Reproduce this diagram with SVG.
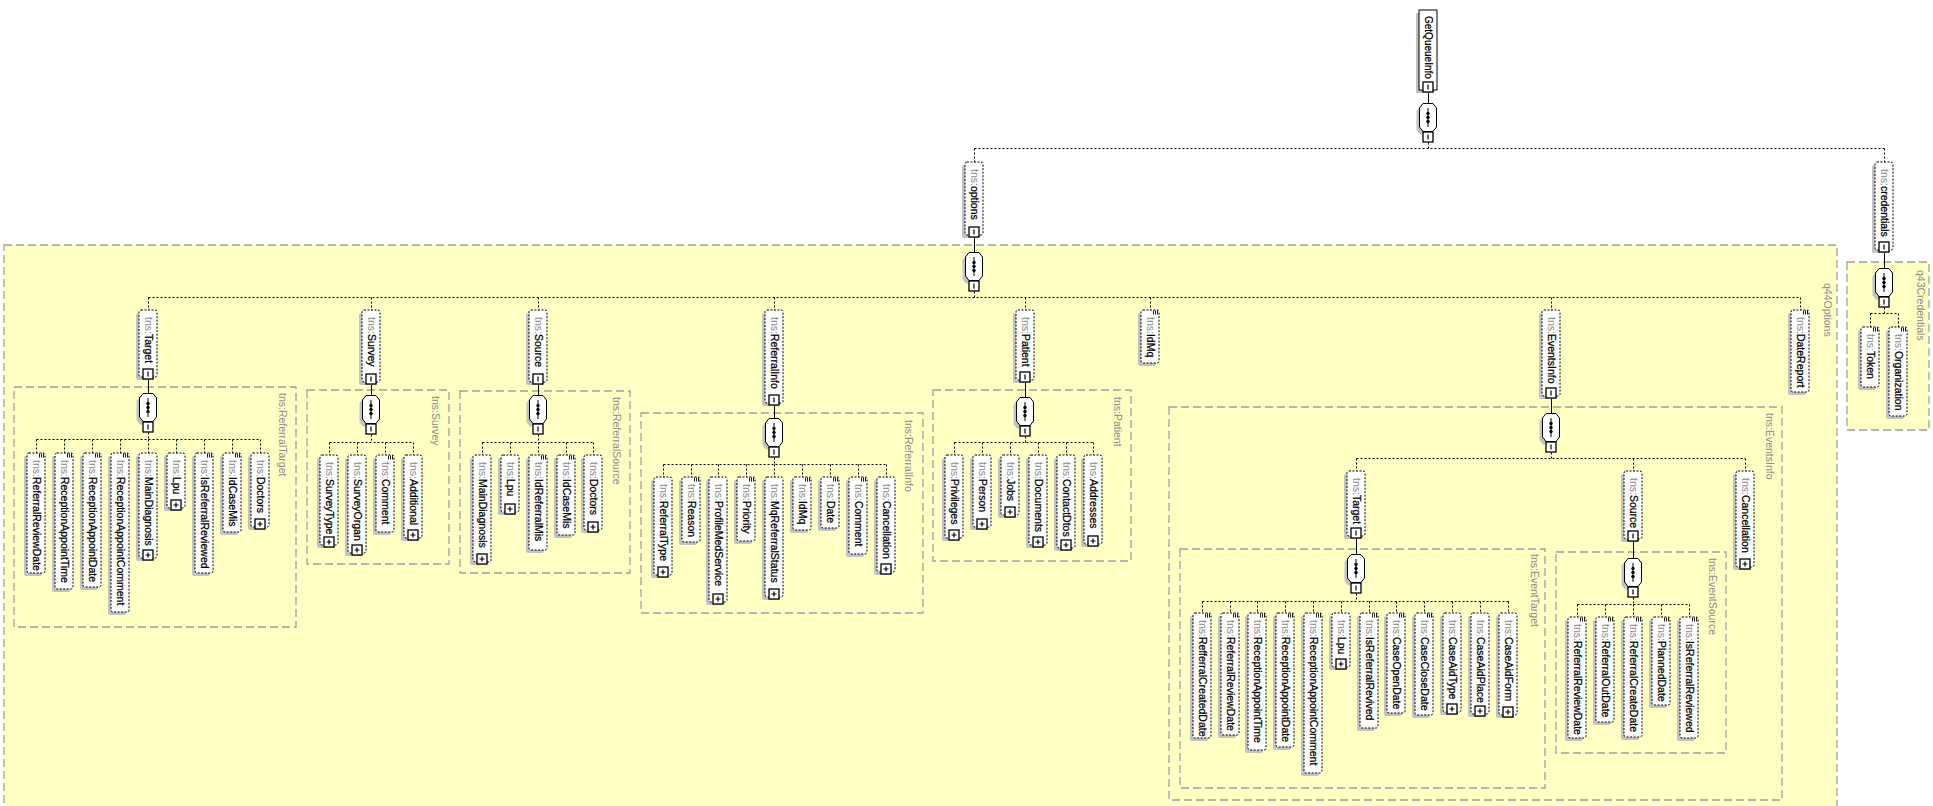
<svg xmlns="http://www.w3.org/2000/svg" xmlns:xlink="http://www.w3.org/1999/xlink" width="1933" height="806" viewBox="0 0 1933 806">
<style>
text{font-family:"Liberation Sans",Arial,sans-serif;font-size:10.5px}
.sh{fill:#c2c2c2}
.bx{fill:#fff;stroke:#000;stroke-width:1;stroke-dasharray:2 1.5}
.bxs{fill:#fff;stroke:#000;stroke-width:1}
.ns{fill:#8a8a8a}
.nm{fill:#000;stroke:#000;stroke-width:0.25}
.lbl{fill:#8c8c8c;font-size:10.5px}
.tb{fill:#ffffc4;stroke:#a0a0a0;stroke-width:1.3;stroke-dasharray:8 4}
.dc{fill:none;stroke:#000;stroke-width:1;stroke-dasharray:2 2}
.sc{fill:none;stroke:#000;stroke-width:1}
</style>
<defs>
<g id="tplus"><rect x="0.5" y="0.5" width="10" height="10" fill="#fff" stroke="#000" stroke-width="1.3"/><path d="M3 5.5h5M5.5 3v5" stroke="#000" stroke-width="1.2"/></g>
<g id="tminus"><rect x="0.5" y="0.5" width="10" height="10" fill="#fff" stroke="#000" stroke-width="1.3"/><path d="M5.5 3v5" stroke="#000" stroke-width="1.2"/></g>
<g id="leaf"><path d="M0 0v4M2 0v4M4 0v4" stroke="#000" stroke-width="0.9"/></g>
<g id="seq">
<path d="M1 3.5H11L14.5 8V27L11 31.5H1L-2.5 27V8Z" fill="#c2c2c2"/>
<path d="M4 0.5H14L17.5 5V24L14 28.5H4L0.5 24V5Z" fill="#fff" stroke="#000"/>
<path d="M9 5V24" stroke="#000"/>
<circle cx="9" cy="10.5" r="1.7"/><circle cx="9" cy="14.5" r="1.7"/><circle cx="9" cy="18.5" r="1.7"/>
<rect x="4" y="29" width="10" height="10" fill="#fff" stroke="#000" stroke-width="1.3"/><path d="M9 31.5v5" stroke="#000" stroke-width="1.2"/>
</g>
</defs>

<g id="typeboxes">
<rect id="tb-q44Options" class="tb" x="4" y="245" width="1833" height="600"/>
<text class="lbl" transform="translate(1824.3,283) rotate(90)">q44Options</text>
<rect id="tb-q43Credentials" class="tb" x="1847" y="262" width="82" height="168"/>
<text class="lbl" transform="translate(1917.3,270) rotate(90)">q43Credentials</text>
<rect id="tb-ReferralTarget" class="tb" x="14" y="387" width="282" height="240"/>
<text class="lbl" transform="translate(279.3,393) rotate(90)">tns:ReferralTarget</text>
<rect id="tb-Survey" class="tb" x="307" y="390" width="142" height="174"/>
<text class="lbl" transform="translate(432.3,396) rotate(90)">tns:Survey</text>
<rect id="tb-ReferralSource" class="tb" x="460" y="391" width="170" height="182"/>
<text class="lbl" transform="translate(613.3,397) rotate(90)">tns:ReferralSource</text>
<rect id="tb-ReferralInfo" class="tb" x="641" y="413" width="282" height="200"/>
<text class="lbl" transform="translate(905.3,420) rotate(90)">tns:ReferralInfo</text>
<rect id="tb-Patient" class="tb" x="933" y="390" width="198" height="171"/>
<text class="lbl" transform="translate(1114.3,397) rotate(90)">tns:Patient</text>
<rect id="tb-EventsInfo" class="tb" x="1169" y="407" width="613" height="393"/>
<text class="lbl" transform="translate(1766.3,413) rotate(90)">tns:EventsInfo</text>
<rect id="tb-EventTarget" class="tb" x="1180" y="549" width="365" height="239"/>
<text class="lbl" transform="translate(1531.3,554) rotate(90)">tns:EventTarget</text>
<rect id="tb-EventSource" class="tb" x="1556" y="552" width="170" height="201"/>
<text class="lbl" transform="translate(1709.3,558) rotate(90)">tns:EventSource</text>
</g>

<g id="connectors" transform="translate(0.5,0.5)">
<path class="dc" d="M1428 142V148M974 148H1884M974 148V162M1884 148V162
M974 291V297M148 297H1800M148 297V310M371 297V310M538 297V310M774 297V310M1025 297V310M1150 297V310M1551 297V310M1800 297V310
M1884 307V313M1870 313H1898M1870 313V327M1898 313V327
M148 432V439M36 439H260M36 439V453M64 439V453M92 439V453M120 439V453M148 439V453M176 439V453M204 439V453M232 439V453M260 439V453
M371 434V442M329 442H413M329 442V455M357 442V455M385 442V455M413 442V455
M538 434V442M482 442H593M482 442V455M510 442V455M538 442V455M566 442V455M593 442V455
M774 457V464M663 464H886M663 464V477M691 464V477M718 464V477M746 464V477M774 464V477M802 464V477M830 464V477M858 464V477M886 464V477
M1025 436V442M954 442H1093M954 442V455M982 442V455M1010 442V455M1038 442V455M1066 442V455M1093 442V455
M1551 452V458M1356 458H1745M1356 458V471M1633 458V471M1745 458V471
M1356 593V601M1202 601H1508M1202 601V613M1230 601V613M1257 601V613M1285 601V613M1313 601V613M1341 601V613M1369 601V613M1396 601V613M1424 601V613M1452 601V613M1480 601V613M1508 601V613
M1633 597V604M1577 604H1689M1577 604V617M1605 604V617M1633 604V617M1661 604V617M1689 604V617"/>
<path class="sc" d="M1428 92V103M974 237V252M1884 252V268M148 379V393M371 384V395M538 384V395M774 405V418M1025 382V397M1551 398V413M1356 538V554M1633 541V558"/>
</g>

<g id="sequences">
<use href="#seq" x="1419" y="103"/>
<use href="#seq" x="965" y="252"/>
<use href="#seq" x="1875" y="268"/>
<use href="#seq" x="139" y="393"/>
<use href="#seq" x="362" y="395"/>
<use href="#seq" x="529" y="395"/>
<use href="#seq" x="765" y="418"/>
<use href="#seq" x="1016" y="397"/>
<use href="#seq" x="1542" y="413"/>
<use href="#seq" x="1347" y="554"/>
<use href="#seq" x="1624" y="558"/>
</g>

<g id="GetQueueInfo"><rect class="sh" x="1416" y="13" width="18" height="80"/><rect class="bxs" x="1419" y="10" width="18" height="80"/><text class="nm" style="font-size:10px" transform="translate(1424.5,16) rotate(90)">GetQueueInfo</text><use href="#tminus" x="1422.5" y="81.5"/></g>

<g id="options"><rect class="sh" x="962" y="165" width="18" height="73" rx="2"/><rect class="bx" x="965" y="162" width="18" height="73" rx="2"/><text transform="translate(970.5,169) rotate(90)"><tspan class="ns">tns:</tspan><tspan class="nm">options</tspan></text><use href="#tminus" x="968.5" y="226.5"/></g>
<g id="credentials"><rect class="sh" x="1872" y="165" width="18" height="88" rx="2"/><rect class="bx" x="1875" y="162" width="18" height="88" rx="2"/><text transform="translate(1880.5,169) rotate(90)"><tspan class="ns">tns:</tspan><tspan class="nm">credentials</tspan></text><use href="#tminus" x="1878.5" y="241.5"/></g>
<g id="Token"><rect class="sh" x="1858" y="330" width="18" height="60" rx="2"/><rect class="bx" x="1861" y="327" width="18" height="60" rx="2"/><text transform="translate(1866.5,334) rotate(90)"><tspan class="ns">tns:</tspan><tspan class="nm">Token</tspan></text><use href="#leaf" x="1873.5" y="327.5"/></g>
<g id="Organization"><rect class="sh" x="1886" y="330" width="18" height="89" rx="2"/><rect class="bx" x="1889" y="327" width="18" height="89" rx="2"/><text transform="translate(1894.5,334) rotate(90)"><tspan class="ns">tns:</tspan><tspan class="nm">Organization</tspan></text><use href="#leaf" x="1901.5" y="327.5"/></g>

<g id="opt-Target"><rect class="sh" x="136" y="313" width="18" height="67" rx="2"/><rect class="bx" x="139" y="310" width="18" height="67" rx="2"/><text transform="translate(144.5,317) rotate(90)"><tspan class="ns">tns:</tspan><tspan class="nm">Target</tspan></text><use href="#tminus" x="142.5" y="368.5"/></g>
<g id="opt-Survey"><rect class="sh" x="359" y="313" width="18" height="72" rx="2"/><rect class="bx" x="362" y="310" width="18" height="72" rx="2"/><text transform="translate(367.5,317) rotate(90)"><tspan class="ns">tns:</tspan><tspan class="nm">Survey</tspan></text><use href="#tminus" x="365.5" y="373.5"/></g>
<g id="opt-Source"><rect class="sh" x="526" y="313" width="18" height="72" rx="2"/><rect class="bx" x="529" y="310" width="18" height="72" rx="2"/><text transform="translate(534.5,317) rotate(90)"><tspan class="ns">tns:</tspan><tspan class="nm">Source</tspan></text><use href="#tminus" x="532.5" y="373.5"/></g>
<g id="opt-ReferralInfo"><rect class="sh" x="762" y="313" width="18" height="93" rx="2"/><rect class="bx" x="765" y="310" width="18" height="93" rx="2"/><text transform="translate(770.5,317) rotate(90)"><tspan class="ns">tns:</tspan><tspan class="nm">ReferralInfo</tspan></text><use href="#tminus" x="768.5" y="394.5"/></g>
<g id="opt-Patient"><rect class="sh" x="1013" y="313" width="18" height="70" rx="2"/><rect class="bx" x="1016" y="310" width="18" height="70" rx="2"/><text transform="translate(1021.5,317) rotate(90)"><tspan class="ns">tns:</tspan><tspan class="nm">Patient</tspan></text><use href="#tminus" x="1019.5" y="371.5"/></g>
<g id="opt-IdMq"><rect class="sh" x="1138" y="313" width="18" height="53" rx="2"/><rect class="bx" x="1141" y="310" width="18" height="53" rx="2"/><text transform="translate(1146.5,317) rotate(90)"><tspan class="ns">tns:</tspan><tspan class="nm">IdMq</tspan></text><use href="#leaf" x="1153.5" y="310.5"/></g>
<g id="opt-EventsInfo"><rect class="sh" x="1539" y="313" width="18" height="86" rx="2"/><rect class="bx" x="1542" y="310" width="18" height="86" rx="2"/><text transform="translate(1547.5,317) rotate(90)"><tspan class="ns">tns:</tspan><tspan class="nm">EventsInfo</tspan></text><use href="#tminus" x="1545.5" y="387.5"/></g>
<g id="opt-DateReport"><rect class="sh" x="1788" y="313" width="18" height="82" rx="2"/><rect class="bx" x="1791" y="310" width="18" height="82" rx="2"/><text transform="translate(1796.5,317) rotate(90)"><tspan class="ns">tns:</tspan><tspan class="nm">DateReport</tspan></text><use href="#leaf" x="1803.5" y="310.5"/></g>

<g id="rt-ReferralReviewDate"><rect class="sh" x="24" y="456" width="18" height="120" rx="2"/><rect class="bx" x="27" y="453" width="18" height="120" rx="2"/><text transform="translate(32.5,460) rotate(90)"><tspan class="ns">tns:</tspan><tspan class="nm">ReferralReviewDate</tspan></text><use href="#leaf" x="39.5" y="453.5"/></g>
<g id="rt-ReceptionAppointTime"><rect class="sh" x="52" y="456" width="18" height="136" rx="2"/><rect class="bx" x="55" y="453" width="18" height="136" rx="2"/><text transform="translate(60.5,460) rotate(90)"><tspan class="ns">tns:</tspan><tspan class="nm">ReceptionAppointTime</tspan></text><use href="#leaf" x="67.5" y="453.5"/></g>
<g id="rt-ReceptionAppointDate"><rect class="sh" x="80" y="456" width="18" height="134" rx="2"/><rect class="bx" x="83" y="453" width="18" height="134" rx="2"/><text transform="translate(88.5,460) rotate(90)"><tspan class="ns">tns:</tspan><tspan class="nm">ReceptionAppointDate</tspan></text><use href="#leaf" x="95.5" y="453.5"/></g>
<g id="rt-ReceptionAppointComment"><rect class="sh" x="108" y="456" width="18" height="159" rx="2"/><rect class="bx" x="111" y="453" width="18" height="159" rx="2"/><text transform="translate(116.5,460) rotate(90)"><tspan class="ns">tns:</tspan><tspan class="nm">ReceptionAppointComment</tspan></text><use href="#leaf" x="123.5" y="453.5"/></g>
<g id="rt-MainDiagnosis"><rect class="sh" x="136" y="456" width="18" height="105" rx="2"/><rect class="bx" x="139" y="453" width="18" height="105" rx="2"/><text transform="translate(144.5,460) rotate(90)"><tspan class="ns">tns:</tspan><tspan class="nm">MainDiagnosis</tspan></text><use href="#tplus" x="142.5" y="549.5"/></g>
<g id="rt-Lpu"><rect class="sh" x="164" y="456" width="18" height="55" rx="2"/><rect class="bx" x="167" y="453" width="18" height="55" rx="2"/><text transform="translate(172.5,460) rotate(90)"><tspan class="ns">tns:</tspan><tspan class="nm">Lpu</tspan></text><use href="#tplus" x="170.5" y="499.5"/></g>
<g id="rt-IsReferralReviewed"><rect class="sh" x="192" y="456" width="18" height="120" rx="2"/><rect class="bx" x="195" y="453" width="18" height="120" rx="2"/><text transform="translate(200.5,460) rotate(90)"><tspan class="ns">tns:</tspan><tspan class="nm">IsReferralReviewed</tspan></text><use href="#leaf" x="207.5" y="453.5"/></g>
<g id="rt-IdCaseMis"><rect class="sh" x="220" y="456" width="18" height="79" rx="2"/><rect class="bx" x="223" y="453" width="18" height="79" rx="2"/><text transform="translate(228.5,460) rotate(90)"><tspan class="ns">tns:</tspan><tspan class="nm">IdCaseMis</tspan></text><use href="#leaf" x="235.5" y="453.5"/></g>
<g id="rt-Doctors"><rect class="sh" x="248" y="456" width="18" height="74" rx="2"/><rect class="bx" x="251" y="453" width="18" height="74" rx="2"/><text transform="translate(256.5,460) rotate(90)"><tspan class="ns">tns:</tspan><tspan class="nm">Doctors</tspan></text><use href="#tplus" x="254.5" y="518.5"/></g>

<g id="sv-SurveyType"><rect class="sh" x="317" y="458" width="18" height="90" rx="2"/><rect class="bx" x="320" y="455" width="18" height="90" rx="2"/><text transform="translate(325.5,462) rotate(90)"><tspan class="ns">tns:</tspan><tspan class="nm">SurveyType</tspan></text><use href="#tplus" x="323.5" y="536.5"/></g>
<g id="sv-SurveyOrgan"><rect class="sh" x="345" y="458" width="18" height="98" rx="2"/><rect class="bx" x="348" y="455" width="18" height="98" rx="2"/><text transform="translate(353.5,462) rotate(90)"><tspan class="ns">tns:</tspan><tspan class="nm">SurveyOrgan</tspan></text><use href="#tplus" x="351.5" y="544.5"/></g>
<g id="sv-Comment"><rect class="sh" x="373" y="458" width="18" height="77" rx="2"/><rect class="bx" x="376" y="455" width="18" height="77" rx="2"/><text transform="translate(381.5,462) rotate(90)"><tspan class="ns">tns:</tspan><tspan class="nm">Comment</tspan></text><use href="#leaf" x="388.5" y="455.5"/></g>
<g id="sv-Additional"><rect class="sh" x="401" y="458" width="18" height="83" rx="2"/><rect class="bx" x="404" y="455" width="18" height="83" rx="2"/><text transform="translate(409.5,462) rotate(90)"><tspan class="ns">tns:</tspan><tspan class="nm">Additional</tspan></text><use href="#tplus" x="407.5" y="529.5"/></g>

<g id="rs-MainDiagnosis"><rect class="sh" x="470" y="458" width="18" height="107" rx="2"/><rect class="bx" x="473" y="455" width="18" height="107" rx="2"/><text transform="translate(478.5,462) rotate(90)"><tspan class="ns">tns:</tspan><tspan class="nm">MainDiagnosis</tspan></text><use href="#tplus" x="476.5" y="553.5"/></g>
<g id="rs-Lpu"><rect class="sh" x="498" y="458" width="18" height="57" rx="2"/><rect class="bx" x="501" y="455" width="18" height="57" rx="2"/><text transform="translate(506.5,462) rotate(90)"><tspan class="ns">tns:</tspan><tspan class="nm">Lpu</tspan></text><use href="#tplus" x="504.5" y="503.5"/></g>
<g id="rs-IdReferralMis"><rect class="sh" x="526" y="458" width="18" height="95" rx="2"/><rect class="bx" x="529" y="455" width="18" height="95" rx="2"/><text transform="translate(534.5,462) rotate(90)"><tspan class="ns">tns:</tspan><tspan class="nm">IdReferralMis</tspan></text><use href="#leaf" x="541.5" y="455.5"/></g>
<g id="rs-IdCaseMis"><rect class="sh" x="554" y="458" width="18" height="80" rx="2"/><rect class="bx" x="557" y="455" width="18" height="80" rx="2"/><text transform="translate(562.5,462) rotate(90)"><tspan class="ns">tns:</tspan><tspan class="nm">IdCaseMis</tspan></text><use href="#leaf" x="569.5" y="455.5"/></g>
<g id="rs-Doctors"><rect class="sh" x="581" y="458" width="18" height="75" rx="2"/><rect class="bx" x="584" y="455" width="18" height="75" rx="2"/><text transform="translate(589.5,462) rotate(90)"><tspan class="ns">tns:</tspan><tspan class="nm">Doctors</tspan></text><use href="#tplus" x="587.5" y="521.5"/></g>

<g id="ri-ReferralType"><rect class="sh" x="651" y="480" width="18" height="98" rx="2"/><rect class="bx" x="654" y="477" width="18" height="98" rx="2"/><text transform="translate(659.5,484) rotate(90)"><tspan class="ns">tns:</tspan><tspan class="nm">ReferralType</tspan></text><use href="#tplus" x="657.5" y="566.5"/></g>
<g id="ri-Reason"><rect class="sh" x="679" y="480" width="18" height="65" rx="2"/><rect class="bx" x="682" y="477" width="18" height="65" rx="2"/><text transform="translate(687.5,484) rotate(90)"><tspan class="ns">tns:</tspan><tspan class="nm">Reason</tspan></text><use href="#leaf" x="694.5" y="477.5"/></g>
<g id="ri-ProfileMedService"><rect class="sh" x="706" y="480" width="18" height="125" rx="2"/><rect class="bx" x="709" y="477" width="18" height="125" rx="2"/><text transform="translate(714.5,484) rotate(90)"><tspan class="ns">tns:</tspan><tspan class="nm">ProfileMedService</tspan></text><use href="#tplus" x="712.5" y="593.5"/></g>
<g id="ri-Priority"><rect class="sh" x="734" y="480" width="18" height="64" rx="2"/><rect class="bx" x="737" y="477" width="18" height="64" rx="2"/><text transform="translate(742.5,484) rotate(90)"><tspan class="ns">tns:</tspan><tspan class="nm">Priority</tspan></text><use href="#leaf" x="749.5" y="477.5"/></g>
<g id="ri-MqReferralStatus"><rect class="sh" x="762" y="480" width="18" height="120" rx="2"/><rect class="bx" x="765" y="477" width="18" height="120" rx="2"/><text transform="translate(770.5,484) rotate(90)"><tspan class="ns">tns:</tspan><tspan class="nm">MqReferralStatus</tspan></text><use href="#tplus" x="768.5" y="588.5"/></g>
<g id="ri-IdMq"><rect class="sh" x="790" y="480" width="18" height="53" rx="2"/><rect class="bx" x="793" y="477" width="18" height="53" rx="2"/><text transform="translate(798.5,484) rotate(90)"><tspan class="ns">tns:</tspan><tspan class="nm">IdMq</tspan></text><use href="#leaf" x="805.5" y="477.5"/></g>
<g id="ri-Date"><rect class="sh" x="818" y="480" width="18" height="51" rx="2"/><rect class="bx" x="821" y="477" width="18" height="51" rx="2"/><text transform="translate(826.5,484) rotate(90)"><tspan class="ns">tns:</tspan><tspan class="nm">Date</tspan></text><use href="#leaf" x="833.5" y="477.5"/></g>
<g id="ri-Comment"><rect class="sh" x="846" y="480" width="18" height="77" rx="2"/><rect class="bx" x="849" y="477" width="18" height="77" rx="2"/><text transform="translate(854.5,484) rotate(90)"><tspan class="ns">tns:</tspan><tspan class="nm">Comment</tspan></text><use href="#leaf" x="861.5" y="477.5"/></g>
<g id="ri-Cancellation"><rect class="sh" x="874" y="480" width="18" height="95" rx="2"/><rect class="bx" x="877" y="477" width="18" height="95" rx="2"/><text transform="translate(882.5,484) rotate(90)"><tspan class="ns">tns:</tspan><tspan class="nm">Cancellation</tspan></text><use href="#tplus" x="880.5" y="563.5"/></g>

<g id="pt-Privileges"><rect class="sh" x="942" y="458" width="18" height="83" rx="2"/><rect class="bx" x="945" y="455" width="18" height="83" rx="2"/><text transform="translate(950.5,462) rotate(90)"><tspan class="ns">tns:</tspan><tspan class="nm">Privileges</tspan></text><use href="#tplus" x="948.5" y="529.5"/></g>
<g id="pt-Person"><rect class="sh" x="970" y="458" width="18" height="72" rx="2"/><rect class="bx" x="973" y="455" width="18" height="72" rx="2"/><text transform="translate(978.5,462) rotate(90)"><tspan class="ns">tns:</tspan><tspan class="nm">Person</tspan></text><use href="#tplus" x="976.5" y="518.5"/></g>
<g id="pt-Jobs"><rect class="sh" x="998" y="458" width="18" height="60" rx="2"/><rect class="bx" x="1001" y="455" width="18" height="60" rx="2"/><text transform="translate(1006.5,462) rotate(90)"><tspan class="ns">tns:</tspan><tspan class="nm">Jobs</tspan></text><use href="#tplus" x="1004.5" y="506.5"/></g>
<g id="pt-Documents"><rect class="sh" x="1026" y="458" width="18" height="90" rx="2"/><rect class="bx" x="1029" y="455" width="18" height="90" rx="2"/><text transform="translate(1034.5,462) rotate(90)"><tspan class="ns">tns:</tspan><tspan class="nm">Documents</tspan></text><use href="#tplus" x="1032.5" y="536.5"/></g>
<g id="pt-ContactDtos"><rect class="sh" x="1054" y="458" width="18" height="93" rx="2"/><rect class="bx" x="1057" y="455" width="18" height="93" rx="2"/><text transform="translate(1062.5,462) rotate(90)"><tspan class="ns">tns:</tspan><tspan class="nm">ContactDtos</tspan></text><use href="#tplus" x="1060.5" y="539.5"/></g>
<g id="pt-Addresses"><rect class="sh" x="1081" y="458" width="18" height="89" rx="2"/><rect class="bx" x="1084" y="455" width="18" height="89" rx="2"/><text transform="translate(1089.5,462) rotate(90)"><tspan class="ns">tns:</tspan><tspan class="nm">Addresses</tspan></text><use href="#tplus" x="1087.5" y="535.5"/></g>

<g id="ei-Target"><rect class="sh" x="1344" y="474" width="18" height="65" rx="2"/><rect class="bx" x="1347" y="471" width="18" height="65" rx="2"/><text transform="translate(1352.5,478) rotate(90)"><tspan class="ns">tns:</tspan><tspan class="nm">Target</tspan></text><use href="#tminus" x="1350.5" y="527.5"/></g>
<g id="ei-Source"><rect class="sh" x="1621" y="474" width="18" height="68" rx="2"/><rect class="bx" x="1624" y="471" width="18" height="68" rx="2"/><text transform="translate(1629.5,478) rotate(90)"><tspan class="ns">tns:</tspan><tspan class="nm">Source</tspan></text><use href="#tminus" x="1627.5" y="530.5"/></g>
<g id="ei-Cancellation"><rect class="sh" x="1733" y="474" width="18" height="96" rx="2"/><rect class="bx" x="1736" y="471" width="18" height="96" rx="2"/><text transform="translate(1741.5,478) rotate(90)"><tspan class="ns">tns:</tspan><tspan class="nm">Cancellation</tspan></text><use href="#tplus" x="1739.5" y="558.5"/></g>

<g id="et-RefferralCreatedDate"><rect class="sh" x="1190" y="616" width="18" height="125" rx="2"/><rect class="bx" x="1193" y="613" width="18" height="125" rx="2"/><text transform="translate(1198.5,620) rotate(90)"><tspan class="ns">tns:</tspan><tspan class="nm">RefferralCreatedDate</tspan></text><use href="#leaf" x="1205.5" y="613.5"/></g>
<g id="et-ReferralReviewDate"><rect class="sh" x="1218" y="616" width="18" height="122" rx="2"/><rect class="bx" x="1221" y="613" width="18" height="122" rx="2"/><text transform="translate(1226.5,620) rotate(90)"><tspan class="ns">tns:</tspan><tspan class="nm">ReferralReviewDate</tspan></text><use href="#leaf" x="1233.5" y="613.5"/></g>
<g id="et-ReceptionAppointTime"><rect class="sh" x="1245" y="616" width="18" height="137" rx="2"/><rect class="bx" x="1248" y="613" width="18" height="137" rx="2"/><text transform="translate(1253.5,620) rotate(90)"><tspan class="ns">tns:</tspan><tspan class="nm">ReceptionAppointTime</tspan></text><use href="#leaf" x="1260.5" y="613.5"/></g>
<g id="et-ReceptionAppointDate"><rect class="sh" x="1273" y="616" width="18" height="134" rx="2"/><rect class="bx" x="1276" y="613" width="18" height="134" rx="2"/><text transform="translate(1281.5,620) rotate(90)"><tspan class="ns">tns:</tspan><tspan class="nm">ReceptionAppointDate</tspan></text><use href="#leaf" x="1288.5" y="613.5"/></g>
<g id="et-ReceptionAppointComment"><rect class="sh" x="1301" y="616" width="18" height="160" rx="2"/><rect class="bx" x="1304" y="613" width="18" height="160" rx="2"/><text transform="translate(1309.5,620) rotate(90)"><tspan class="ns">tns:</tspan><tspan class="nm">ReceptionAppointComment</tspan></text><use href="#leaf" x="1316.5" y="613.5"/></g>
<g id="et-Lpu"><rect class="sh" x="1329" y="616" width="18" height="54" rx="2"/><rect class="bx" x="1332" y="613" width="18" height="54" rx="2"/><text transform="translate(1337.5,620) rotate(90)"><tspan class="ns">tns:</tspan><tspan class="nm">Lpu</tspan></text><use href="#tplus" x="1335.5" y="658.5"/></g>
<g id="et-IsReferralRevived"><rect class="sh" x="1357" y="616" width="18" height="115" rx="2"/><rect class="bx" x="1360" y="613" width="18" height="115" rx="2"/><text transform="translate(1365.5,620) rotate(90)"><tspan class="ns">tns:</tspan><tspan class="nm">IsReferralRevived</tspan></text><use href="#leaf" x="1372.5" y="613.5"/></g>
<g id="et-CaseOpenDate"><rect class="sh" x="1384" y="616" width="18" height="100" rx="2"/><rect class="bx" x="1387" y="613" width="18" height="100" rx="2"/><text transform="translate(1392.5,620) rotate(90)"><tspan class="ns">tns:</tspan><tspan class="nm">CaseOpenDate</tspan></text><use href="#leaf" x="1399.5" y="613.5"/></g>
<g id="et-CaseCloseDate"><rect class="sh" x="1412" y="616" width="18" height="102" rx="2"/><rect class="bx" x="1415" y="613" width="18" height="102" rx="2"/><text transform="translate(1420.5,620) rotate(90)"><tspan class="ns">tns:</tspan><tspan class="nm">CaseCloseDate</tspan></text><use href="#leaf" x="1427.5" y="613.5"/></g>
<g id="et-CaseAidType"><rect class="sh" x="1440" y="616" width="18" height="99" rx="2"/><rect class="bx" x="1443" y="613" width="18" height="99" rx="2"/><text transform="translate(1448.5,620) rotate(90)"><tspan class="ns">tns:</tspan><tspan class="nm">CaseAidType</tspan></text><use href="#tplus" x="1446.5" y="703.5"/></g>
<g id="et-CaseAidPlace"><rect class="sh" x="1468" y="616" width="18" height="101" rx="2"/><rect class="bx" x="1471" y="613" width="18" height="101" rx="2"/><text transform="translate(1476.5,620) rotate(90)"><tspan class="ns">tns:</tspan><tspan class="nm">CaseAidPlace</tspan></text><use href="#tplus" x="1474.5" y="705.5"/></g>
<g id="et-CaseAidForm"><rect class="sh" x="1496" y="616" width="18" height="102" rx="2"/><rect class="bx" x="1499" y="613" width="18" height="102" rx="2"/><text transform="translate(1504.5,620) rotate(90)"><tspan class="ns">tns:</tspan><tspan class="nm">CaseAidForm</tspan></text><use href="#tplus" x="1502.5" y="706.5"/></g>

<g id="es-ReferralReviewDate"><rect class="sh" x="1565" y="620" width="18" height="121" rx="2"/><rect class="bx" x="1568" y="617" width="18" height="121" rx="2"/><text transform="translate(1573.5,624) rotate(90)"><tspan class="ns">tns:</tspan><tspan class="nm">ReferralReviewDate</tspan></text><use href="#leaf" x="1580.5" y="617.5"/></g>
<g id="es-ReferralOutDate"><rect class="sh" x="1593" y="620" width="18" height="105" rx="2"/><rect class="bx" x="1596" y="617" width="18" height="105" rx="2"/><text transform="translate(1601.5,624) rotate(90)"><tspan class="ns">tns:</tspan><tspan class="nm">ReferralOutDate</tspan></text><use href="#leaf" x="1608.5" y="617.5"/></g>
<g id="es-ReferralCreateDate"><rect class="sh" x="1621" y="620" width="18" height="120" rx="2"/><rect class="bx" x="1624" y="617" width="18" height="120" rx="2"/><text transform="translate(1629.5,624) rotate(90)"><tspan class="ns">tns:</tspan><tspan class="nm">ReferralCreateDate</tspan></text><use href="#leaf" x="1636.5" y="617.5"/></g>
<g id="es-PlannedDate"><rect class="sh" x="1649" y="620" width="18" height="88" rx="2"/><rect class="bx" x="1652" y="617" width="18" height="88" rx="2"/><text transform="translate(1657.5,624) rotate(90)"><tspan class="ns">tns:</tspan><tspan class="nm">PlannedDate</tspan></text><use href="#leaf" x="1664.5" y="617.5"/></g>
<g id="es-IsReferralReviewed"><rect class="sh" x="1677" y="620" width="18" height="121" rx="2"/><rect class="bx" x="1680" y="617" width="18" height="121" rx="2"/><text transform="translate(1685.5,624) rotate(90)"><tspan class="ns">tns:</tspan><tspan class="nm">IsReferralReviewed</tspan></text><use href="#leaf" x="1692.5" y="617.5"/></g>
</svg>
